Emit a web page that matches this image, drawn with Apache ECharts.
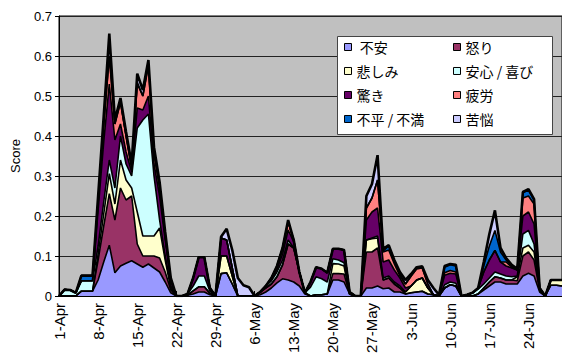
<!DOCTYPE html>
<html>
<head>
<meta charset="utf-8">
<script src="https://cdn.jsdelivr.net/npm/echarts@6/dist/echarts.min.js"></script>
<style>
  html, body { margin: 0; padding: 0; background: #fff; }
  #chart { width: 562px; height: 363px; }
</style>
</head>
<body>
<div id="chart"></div>
<script>
// Daily dates, 1-Apr to 30-Jun
const dates = [
  '1-Apr','2-Apr','3-Apr','4-Apr','5-Apr','6-Apr','7-Apr','8-Apr','9-Apr','10-Apr',
  '11-Apr','12-Apr','13-Apr','14-Apr','15-Apr','16-Apr','17-Apr','18-Apr','19-Apr','20-Apr',
  '21-Apr','22-Apr','23-Apr','24-Apr','25-Apr','26-Apr','27-Apr','28-Apr','29-Apr','30-Apr',
  '1-May','2-May','3-May','4-May','5-May','6-May','7-May','8-May','9-May','10-May',
  '11-May','12-May','13-May','14-May','15-May','16-May','17-May','18-May','19-May','20-May',
  '21-May','22-May','23-May','24-May','25-May','26-May','27-May','28-May','29-May','30-May',
  '31-May','1-Jun','2-Jun','3-Jun','4-Jun','5-Jun','6-Jun','7-Jun','8-Jun','9-Jun',
  '10-Jun','11-Jun','12-Jun','13-Jun','14-Jun','15-Jun','16-Jun','17-Jun','18-Jun','19-Jun',
  '20-Jun','21-Jun','22-Jun','23-Jun','24-Jun','25-Jun','26-Jun','27-Jun','28-Jun','29-Jun',
  '30-Jun'
];

// Emotion scores per day
const fuan = [ // 不安
  0,0,0,0,0.012,0.012,0.012,0.04,0.085,0.127,
  0.058,0.075,0.082,0.088,0.08,0.072,0.08,0.07,0.06,0.035,
  0.008,0,0,0.002,0.005,0.01,0.01,0.003,0,0.056,
  0.058,0.03,0,0,0,0,0.003,0.01,0.02,0.033,
  0.043,0.04,0.035,0.025,0.005,0,0.003,0.003,0.005,0.04,
  0.04,0.035,0.005,0,0,0.02,0.02,0.025,0.018,0.02,
  0.01,0.01,0.005,0.008,0.01,0.012,0.005,0.003,0,0.02,
  0.028,0.025,0,0,0,0.005,0.015,0.025,0.035,0.035,
  0.03,0.03,0.03,0.05,0.057,0.05,0.01,0,0.027,0.027,
  0.025
];
const ikari = [ // 怒り
  0,0,0,0,0,0,0,0.05,0.09,0.129,
  0.132,0.195,0.158,0.162,0.05,0.028,0.02,0.03,0.035,0.025,
  0.007,0,0,0,0.008,0.013,0.013,0.004,0,0,
  0,0,0,0,0,0,0.007,0.01,0.01,0.015,
  0.035,0.09,0.085,0.035,0.003,0,0,0,0,0.016,
  0.016,0.02,0,0,0,0.09,0.09,0.095,0.022,0.025,
  0.02,0.01,0,0,0,0,0,0,0,0,
  0,0,0,0,0,0,0.005,0.01,0.013,0.01,
  0.01,0.01,0.008,0.05,0.053,0.04,0.005,0,0,0,
  0
];
const kanashimi = [ // 悲しみ
  0,0,0,0,0,0,0,0.015,0.03,0.05,
  0.04,0.07,0.05,0.02,0.08,0.05,0.05,0.05,0.075,0.03,
  0.005,0,0,0,0,0,0,0,0,0.044,
  0.042,0.02,0,0,0,0,0,0,0,0,
  0,0,0,0,0,0,0,0,0,0.025,
  0.024,0.02,0,0,0,0.03,0.033,0.025,0,0,
  0,0,0.005,0.017,0.03,0.033,0.015,0,0,0,
  0,0,0,0,0,0,0,0,0,0,
  0,0,0.01,0.02,0.017,0.02,0,0,0.013,0.013,
  0.015
];
const anshin = [ // 安心 / 喜び
  0,0.016,0.015,0.008,0.026,0.026,0.026,0.02,0.03,0.034,
  0.04,0.06,0.04,0.03,0.21,0.29,0.305,0.15,0.02,0.01,
  0.005,0,0,0.003,0.012,0.027,0.027,0.005,0,0,
  0,0,0,0,0,0,0,0.005,0.008,0.012,
  0.012,0.01,0,0,0,0.022,0.045,0.04,0.03,0.012,
  0.01,0.008,0,0,0,0,0.002,0.005,0.005,0.005,
  0.005,0.005,0,0,0,0,0,0,0,0.008,
  0.007,0.007,0,0.003,0.008,0.012,0.01,0.01,0.012,0.01,
  0.01,0.008,0.002,0.035,0.037,0.02,0,0,0,0,
  0
];
const odoroki = [ // 驚き
  0,0,0,0,0,0,0,0.09,0.15,0.19,
  0.12,0.03,0.03,0.01,0.05,0.025,0.045,0.03,0.06,0.04,
  0.015,0,0,0,0.02,0.047,0.047,0.008,0,0.045,
  0.04,0.02,0,0,0,0,0,0,0.004,0.007,
  0.015,0.025,0.015,0,0,0.013,0.024,0.025,0.023,0.025,
  0.028,0.032,0.005,0,0,0.05,0.065,0.07,0.04,0.04,
  0.03,0.02,0.01,0,0,0,0,0,0,0.024,
  0.022,0.023,0,0,0,0.003,0.03,0.045,0.054,0.03,
  0.025,0.022,0.015,0.045,0.046,0.05,0.005,0,0,0,
  0
];
const hirou = [ // 疲労
  0,0,0,0,0,0,0,0.02,0.04,0.07,
  0.04,0.055,0.04,0.01,0.06,0.035,0.075,0.025,0.02,0.01,
  0,0,0,0,0,0,0,0,0,0,
  0,0,0,0,0,0,0,0,0.003,0.008,
  0.015,0.02,0.005,0,0,0,0,0,0,0,
  0,0,0,0,0,0.03,0.035,0.07,0.025,0.025,
  0.015,0.005,0.01,0.025,0.028,0.025,0.01,0,0,0.006,
  0.007,0.005,0,0,0,0,0,0,0,0,
  0.01,0.002,0,0.045,0.04,0.05,0,0,0,0,
  0
];
const fuhei = [ // 不平 / 不満
  0,0,0,0,0.013,0.013,0.013,0.005,0.005,0,
  0,0,0,0,0.005,0,0.005,0.007,0.005,0.002,
  0,0,0,0,0,0,0,0,0,0,
  0,0,0,0,0,0,0,0,0,0,
  0,0,0,0,0,0,0,0,0,0,
  0,0,0,0,0,0,0,0,0.002,0.01,
  0.008,0.005,0,0,0,0,0,0,0,0.014,
  0.014,0.015,0,0,0,0,0.015,0.035,0.05,0.025,
  0.005,0.003,0,0.013,0.015,0.01,0,0,0,0,
  0
];
const kunou = [ // 苦悩
  0,0,0,0,0,0,0,0.01,0.02,0.056,
  0.01,0.01,0.01,0.01,0.021,0.015,0.01,0.01,0.01,0.008,
  0.005,0,0,0,0,0,0,0,0,0.003,
  0.028,0.045,0.045,0.027,0.022,0,0,0,0,0,
  0,0.005,0,0,0,0,0,0,0,0,
  0,0,0,0,0,0.03,0.035,0.062,0.006,0.002,
  0.002,0.005,0.01,0.005,0.004,0.004,0.01,0.017,0.003,0.003,
  0.002,0.003,0,0,0,0,0.01,0.03,0.05,0.01,
  0.005,0.003,0.003,0.002,0.002,0.002,0,0,0,0,
  0
];

const seriesDefs = [
  { name: '不安',        data: fuan,      color: '#9999FF' },
  { name: '怒り',        data: ikari,     color: '#993366' },
  { name: '悲しみ',      data: kanashimi, color: '#FFFFCC' },
  { name: '安心 / 喜び', data: anshin,    color: '#CCFFFF' },
  { name: '驚き',        data: odoroki,   color: '#660066' },
  { name: '疲労',        data: hirou,     color: '#FF8080' },
  { name: '不平 / 不満', data: fuhei,     color: '#0066CC' },
  { name: '苦悩',        data: kunou,     color: '#CCCCFF' }
];

const yTicks = ['0', '0.1', '0.2', '0.3', '0.4', '0.5', '0.6', '0.7'];

const chart = echarts.init(document.getElementById('chart'), null, { renderer: 'svg' });

const legendCommon = {
  orient: 'vertical',
  icon: 'rect',
  itemWidth: 7,
  itemHeight: 7,
  itemGap: 10,
  padding: 0,
  z: 10,
  textStyle: { fontFamily: 'Noto Sans CJK JP', fontSize: 14, color: '#000' },
  itemStyle: { borderColor: '#000', borderWidth: 1 },
  formatter: (name) => (name === '不安' ? ' ' + name : name),
  selectedMode: false
};

chart.setOption({
  animation: false,
  backgroundColor: '#fff',
  grid: {
    left: 59, right: -2, top: 16, bottom: 67,
    show: true, backgroundColor: '#C0C0C0', borderColor: '#000', borderWidth: 1
  },
  legend: [
    Object.assign({ left: 344, top: 40, data: ['不安', '悲しみ', '驚き', '不平 / 不満'] }, legendCommon),
    Object.assign({ left: 453, top: 40, data: ['怒り', '安心 / 喜び', '疲労', '苦悩'] }, legendCommon)
  ],
  graphic: [{
    type: 'rect', left: 337, top: 36, z: 1,
    shape: { width: 215, height: 98 },
    style: { fill: '#fff', stroke: '#444', lineWidth: 1 }
  }],
  xAxis: {
    type: 'category',
    data: dates,
    boundaryGap: false,
    axisLine: { lineStyle: { color: '#000', width: 1 } },
    axisTick: { inside: true, length: 5, interval: 6, lineStyle: { color: '#000' } },
    axisLabel: {
      show: true, interval: 6, rotate: 90, margin: 7, hideOverlap: false,
      fontFamily: 'Liberation Sans', fontSize: 15, color: '#000'
    },
    splitLine: { show: false }
  },
  yAxis: {
    type: 'value',
    min: 0, max: 0.7, interval: 0.1,
    name: 'Score', nameLocation: 'middle', nameGap: 37, nameRotate: 90,
    nameTextStyle: { fontFamily: 'Liberation Sans', fontSize: 13, color: '#000' },
    axisLine: { show: true, lineStyle: { color: '#000' } },
    axisTick: { show: true, length: 4, lineStyle: { color: '#000' } },
    axisLabel: {
      margin: 7, fontFamily: 'Liberation Sans', fontSize: 13, color: '#000',
      formatter: (v) => yTicks[Math.round(v * 10)]
    },
    splitLine: { show: true, lineStyle: { color: '#222', width: 1 } }
  },
  series: seriesDefs.map((s, i) => ({
    name: s.name,
    type: 'line',
    stack: 'total',
    data: s.data,
    symbol: 'none',
    smooth: false,
    itemStyle: { color: s.color },
    areaStyle: { color: s.color, opacity: 1 },
    lineStyle: { color: '#000', width: i === seriesDefs.length - 1 ? 2.6 : 1.6 },
    z: 2
  }))
});
</script>
</body>
</html>
